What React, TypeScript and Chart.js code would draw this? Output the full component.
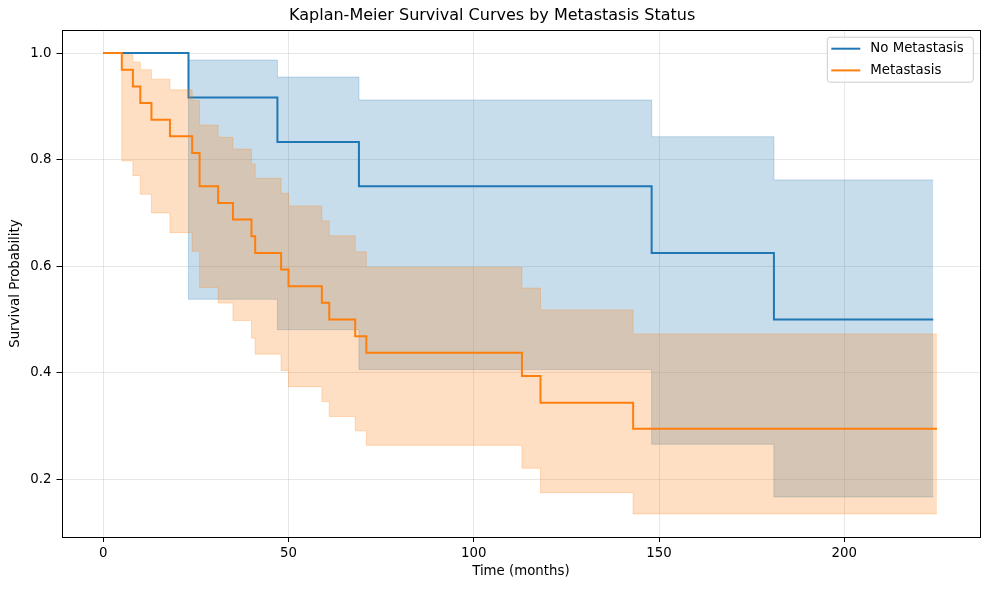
import React, { useEffect, useRef } from "react";
import { Chart, registerables } from "chart.js";

Chart.register(...registerables);

// ---- Data ----
const blueTimes = [0, 23, 47, 69, 148, 181, 224];
const blueSurv = [1, 0.9167, 0.8333, 0.75, 0.625, 0.5, 0.5];
const blueUpper = [1, 0.987, 0.955, 0.912, 0.843, 0.762, 0.762];
const blueLower = [1, 0.538, 0.481, 0.406, 0.266, 0.167, 0.167];

const orangeTimes = [0, 5, 8, 10, 13, 18, 24, 26, 31, 35, 40, 41, 48, 50, 59, 61, 68, 71, 113, 118, 143, 225];
const orangeSurv = [1, 0.96875, 0.9375, 0.90625, 0.875, 0.84375, 0.8125, 0.75, 0.71875, 0.6875, 0.65625, 0.625, 0.59375, 0.5625, 0.53125, 0.5, 0.46875, 0.4375, 0.394, 0.344, 0.295, 0.295];
const orangeUpper = [1, 0.997, 0.983, 0.969, 0.951, 0.931, 0.911, 0.865, 0.842, 0.82, 0.792, 0.765, 0.737, 0.713, 0.685, 0.657, 0.627, 0.598, 0.559, 0.518, 0.473, 0.473];
const orangeLower = [1, 0.798, 0.77, 0.735, 0.7, 0.663, 0.628, 0.56, 0.531, 0.498, 0.465, 0.435, 0.404, 0.374, 0.346, 0.318, 0.291, 0.264, 0.221, 0.175, 0.135, 0.135];

const xTicks = [0, 50, 100, 150, 200];
const yTicks = [0.2, 0.4, 0.6, 0.8, 1.0];
const seriesLabels = ["No Metastasis", "Metastasis"];

const BLUE = "#1f77b4";
const ORANGE = "#ff7f0e";
const BLUE_FILL = "rgba(31,119,180,0.25)";
const ORANGE_FILL = "rgba(255,127,14,0.25)";

const pts = (xs: number[], ys: number[]) => xs.map((x, i) => ({ x, y: ys[i] }));

const FONT = "'DejaVu Sans', sans-serif";

const framePlugin = {
  id: "frameLegend",
  afterDatasetsDraw(chart: any) {
    const { ctx, chartArea: a } = chart;
    ctx.save();
    ctx.strokeStyle = "#000";
    ctx.lineWidth = 1;
    ctx.strokeRect(Math.round(a.left) + 0.5, Math.round(a.top) + 0.5, Math.round(a.right - a.left) - 1, Math.round(a.bottom - a.top));
    // legend
    const bw = 146, bh = 45;
    const bx = a.right - 7 - bw;
    const by = a.top + 7;
    ctx.beginPath();
    const r = 3;
    ctx.moveTo(bx + r, by);
    ctx.lineTo(bx + bw - r, by);
    ctx.quadraticCurveTo(bx + bw, by, bx + bw, by + r);
    ctx.lineTo(bx + bw, by + bh - r);
    ctx.quadraticCurveTo(bx + bw, by + bh, bx + bw - r, by + bh);
    ctx.lineTo(bx + r, by + bh);
    ctx.quadraticCurveTo(bx, by + bh, bx, by + bh - r);
    ctx.lineTo(bx, by + r);
    ctx.quadraticCurveTo(bx, by, bx + r, by);
    ctx.closePath();
    ctx.fillStyle = "rgba(255,255,255,0.8)";
    ctx.fill();
    ctx.strokeStyle = "#cccccc";
    ctx.lineWidth = 1;
    ctx.stroke();
    const colors = [BLUE, ORANGE];
    ctx.font = `13.33px ${FONT}`;
    ctx.textBaseline = "middle";
    ctx.textAlign = "left";
    seriesLabels.forEach((lab, i) => {
      const y = by + 11.5 + i * 21.7;
      ctx.strokeStyle = colors[i];
      ctx.lineWidth = 2;
      ctx.beginPath();
      ctx.moveTo(bx + 4, y);
      ctx.lineTo(bx + 33, y);
      ctx.stroke();
      ctx.fillStyle = "#000";
      ctx.fillText(lab, bx + 43, y);
    });
    ctx.restore();
  },
};

export default function App() {
  const ref = useRef<HTMLCanvasElement | null>(null);
  useEffect(() => {
    document.body.style.margin = "0";
    if (!ref.current) return;
    const common = { pointRadius: 0, pointHoverRadius: 0, stepped: "before" as const };
    const chart = new Chart(ref.current, {
      type: "line",
      data: {
        datasets: [
          { ...common, label: "blue-upper", data: pts(blueTimes, blueUpper), borderColor: BLUE_FILL, borderWidth: 1, fill: false, order: 6 },
          { ...common, label: "blue-lower", data: pts(blueTimes, blueLower), borderColor: BLUE_FILL, borderWidth: 1, backgroundColor: BLUE_FILL, fill: "-1", order: 5 },
          { ...common, label: seriesLabels[0], data: pts(blueTimes, blueSurv), borderColor: BLUE, borderWidth: 2, fill: false, order: 4 },
          { ...common, label: "orange-upper", data: pts(orangeTimes, orangeUpper), borderColor: ORANGE_FILL, borderWidth: 1, fill: false, order: 3 },
          { ...common, label: "orange-lower", data: pts(orangeTimes, orangeLower), borderColor: ORANGE_FILL, borderWidth: 1, backgroundColor: ORANGE_FILL, fill: "-1", order: 2 },
          { ...common, label: seriesLabels[1], data: pts(orangeTimes, orangeSurv), borderColor: ORANGE, borderWidth: 2, fill: false, order: 1 },
        ],
      },
      options: {
        responsive: false,
        animation: false,
        devicePixelRatio: 1,
        layout: { padding: { left: 4, right: 8.7, top: 0, bottom: 6 } },
        plugins: {
          legend: { display: false },
          tooltip: { enabled: false },
          title: {
            display: true,
            text: "Kaplan-Meier Survival Curves by Metastasis Status",
            color: "#000",
            font: { family: FONT, size: 16, weight: "normal" },
            padding: { top: 6, bottom: 5 },
          },
        },
        scales: {
          x: {
            type: "linear",
            min: -11.27,
            max: 236.7,
            afterBuildTicks: (s: any) => {
              s.ticks = xTicks.map((v) => ({ value: v }));
            },
            afterFit: (s: any) => {
              s.height = 47;
            },
            ticks: { color: "#000", font: { family: FONT, size: 13.33 }, padding: 4, maxRotation: 0, callback: (v: any) => String(v) },
            grid: { color: "rgba(176,176,176,0.3)", lineWidth: 1, drawTicks: true, tickLength: 5, tickColor: "#000", tickWidth: 1 },
            border: { display: false },
            title: { display: true, text: "Time (months)", color: "#000", font: { family: FONT, size: 13.33 }, padding: { top: 4, bottom: 4 } },
          },
          y: {
            type: "linear",
            min: 0.0918,
            max: 1.043,
            afterBuildTicks: (s: any) => {
              s.ticks = yTicks.map((v) => ({ value: v }));
            },
            afterFit: (s: any) => {
              s.width = 57.5;
            },
            ticks: { color: "#000", font: { family: FONT, size: 13.33 }, padding: 5, callback: (v: any) => Number(v).toFixed(1) },
            grid: { color: "rgba(176,176,176,0.3)", lineWidth: 1, drawTicks: true, tickLength: 5, tickColor: "#000", tickWidth: 1 },
            border: { display: false },
            title: { display: true, text: "Survival Probability", color: "#000", font: { family: FONT, size: 13.33 }, padding: { top: 4, bottom: 4 } },
          },
        },
      },
      plugins: [framePlugin],
    } as any);
    return () => chart.destroy();
  }, []);
  return <canvas ref={ref} width={989} height={590} style={{ display: "block" }} />;
}
